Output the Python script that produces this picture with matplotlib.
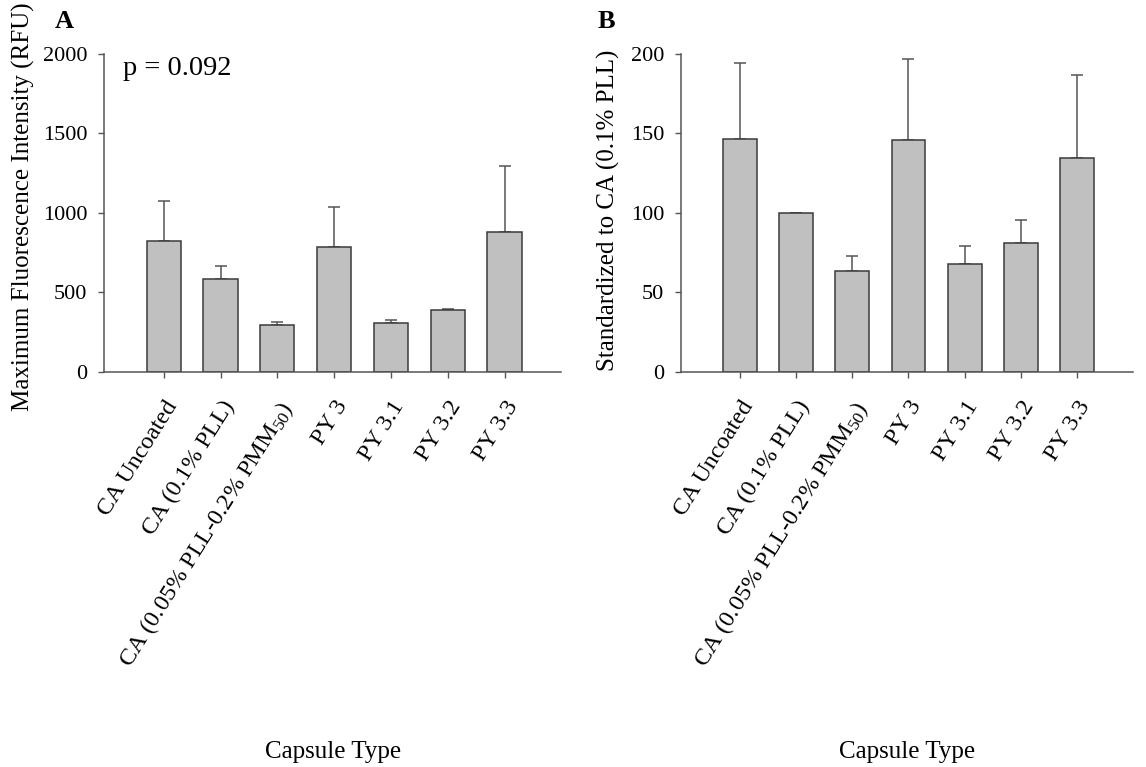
#!/usr/bin/env python3

import matplotlib
matplotlib.use("Agg")
import matplotlib.pyplot as plt
import numpy as np

# Capsule types shared by both panels
capsules = [
    "CA Uncoated",
    "CA (0.1% PLL)",
    "CA (0.05% PLL-0.2% PMM$_{50}$)",
    "PY 3",
    "PY 3.1",
    "PY 3.2",
    "PY 3.3",
]

# Panel A: maximum fluorescence intensity (RFU), mean and upper error
rfu_mean = [824, 585, 295, 785, 310, 388, 882]
rfu_err = [250, 80, 18, 250, 20, 10, 414]

# Panel B: standardized to CA (0.1% PLL)
std_mean = [146.4, 100, 63.3, 146.2, 68.0, 81.4, 134.6]
std_err = [47.8, 0, 9.7, 50.6, 11.3, 14.0, 52.4]

plt.rcParams["font.family"] = "Liberation Serif"
plt.rcParams["mathtext.fontset"] = "custom"
plt.rcParams["mathtext.rm"] = "Liberation Serif"
plt.rcParams["mathtext.it"] = "Liberation Serif:italic"

bar_fill = "#c0c0c0"
bar_edge = "#3a3a3a"
line_grey = "#555555"


def draw_panel(ax, means, errs, ylim, yticks, ylabel, ylabel_xy):
    x = np.arange(len(capsules))
    ax.bar(x, means, width=0.6, color=bar_fill, edgecolor=bar_edge,
           linewidth=1.1, zorder=2)
    # only the upper half of each error bar is drawn
    ax.errorbar(x, means, yerr=[np.zeros(len(errs)), errs], fmt="none",
                ecolor=line_grey, elinewidth=1.1, capsize=4, capthick=1.1,
                zorder=1)

    ax.set_xlim(-1.05, 7.0)
    ax.set_ylim(*ylim)
    ax.set_yticks(yticks)
    ax.set_xticks(x)
    ax.set_xticklabels(capsules, rotation=58, ha="right", va="top",
                       rotation_mode="anchor", fontsize=17.5)

    for side in ("top", "right"):
        ax.spines[side].set_visible(False)
    for side in ("left", "bottom"):
        ax.spines[side].set_color(line_grey)
        ax.spines[side].set_linewidth(1.1)
    ax.tick_params(axis="y", direction="out", length=4, width=1.0,
                   color=line_grey, labelsize=16, pad=8)
    ax.tick_params(axis="x", direction="out", length=4, width=1.0,
                   color=line_grey, pad=14)

    ax.set_ylabel(ylabel, fontsize=18)
    ax.yaxis.set_label_coords(*ylabel_xy)
    ax.set_xlabel("Capsule Type", fontsize=18)
    ax.xaxis.set_label_coords(0.5, -1.16)


fig = plt.figure(figsize=(11.46, 7.67), dpi=100)
ax_a = fig.add_axes([0.0908, 0.515, 0.399, 0.4146])
ax_b = fig.add_axes([0.594, 0.515, 0.395, 0.4146])

draw_panel(ax_a, rfu_mean, rfu_err, (0, 2000), [0, 500, 1000, 1500, 2000],
           "Maximum Fluorescence Intensity (RFU)", (-0.15, 0.52))
draw_panel(ax_b, std_mean, std_err, (0, 200), [0, 50, 100, 150, 200],
           "Standardized to CA (0.1% PLL)", (-0.135, 0.51))

ax_a.text(0.042, 0.955, "p = 0.092", transform=ax_a.transAxes, fontsize=20.5,
          ha="left", va="center")

# panel letters
fig.text(64 / 1146, 1 - 22 / 767, "A", fontsize=19, fontweight="bold",
         ha="center", va="center")
fig.text(606 / 1146, 1 - 22 / 767, "B", fontsize=19, fontweight="bold",
         ha="center", va="center")

fig.savefig("out.png", dpi=100)
